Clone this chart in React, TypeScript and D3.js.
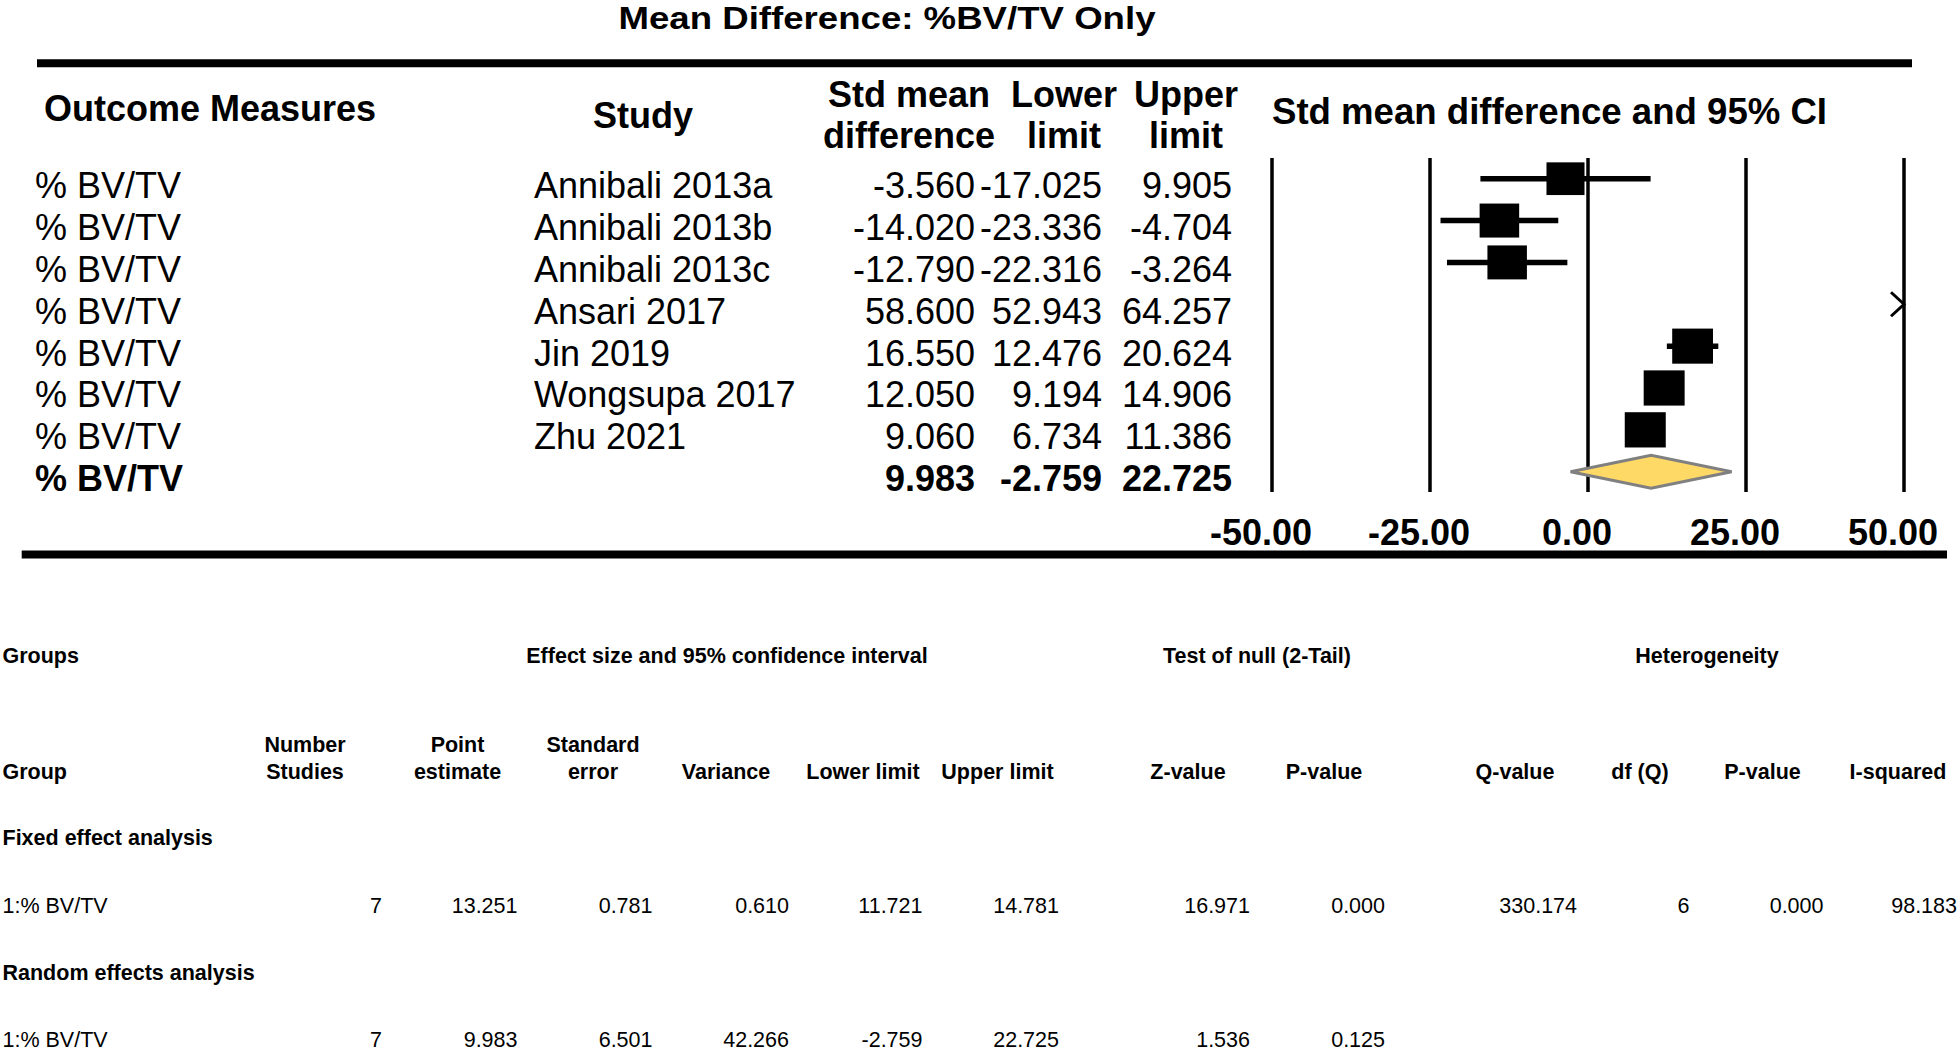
import React from "react";
import * as d3 from "d3";

// ---------- data ----------
const chartTitle = "Mean Difference: %BV/TV Only";
const outcomeLabel = "% BV/TV";
const studies = [
  "Annibali 2013a",
  "Annibali 2013b",
  "Annibali 2013c",
  "Ansari 2017",
  "Jin 2019",
  "Wongsupa 2017",
  "Zhu 2021",
];
const smd = [-3.56, -14.02, -12.79, 58.6, 16.55, 12.05, 9.06];
const lowerLimit = [-17.025, -23.336, -22.316, 52.943, 12.476, 9.194, 6.734];
const upperLimit = [9.905, -4.704, -3.264, 64.257, 20.624, 14.906, 11.386];
const summaryValues = [9.983, -2.759, 22.725]; // point, lower, upper
const axisTicks = [-50, -25, 0, 25, 50];
const axisDomain = [-50, 50];
const qValue = 330.174;

const tableGroupHeaders = [
  "Groups",
  "Effect size and 95% confidence interval",
  "Test of null (2-Tail)",
  "Heterogeneity",
];
const tableColumns = [
  ["Group"],
  ["Number", "Studies"],
  ["Point", "estimate"],
  ["Standard", "error"],
  ["Variance"],
  ["Lower limit"],
  ["Upper limit"],
  ["Z-value"],
  ["P-value"],
  ["Q-value"],
  ["df (Q)"],
  ["P-value"],
  ["I-squared"],
];
const sectionLabels = ["Fixed effect analysis", "Random effects analysis"];
const fixedRow = ["1:% BV/TV", "7", "13.251", "0.781", "0.610", "11.721", "14.781", "16.971", "0.000", "330.174", "6", "0.000", "98.183"];
const randomRow = ["1:% BV/TV", "7", "9.983", "6.501", "42.266", "-2.759", "22.725", "1.536", "0.125"];

// ---------- layout ----------
const W = 1960;
const H = 1051;
const FONT = "'Liberation Sans', Arial, Helvetica, sans-serif";

const hyph = (f: (n: number) => string) => (n: number) => f(n).replace("\u2212", "-");

export default function App() {
  const x = d3.scaleLinear().domain(axisDomain).range([1272, 1904]);
  const rowY = d3
    .scalePoint<number>()
    .domain(d3.range(studies.length + 1))
    .range([178.7, 471.7]);
  const fmt = hyph(d3.format(".3f"));
  const fmtTick = hyph(d3.format(".2f"));

  // random-effects weights (DerSimonian-Laird) -> box sizes
  const se = lowerLimit.map((l, i) => (upperLimit[i] - l) / (2 * 1.96));
  const wF = se.map((s) => 1 / (s * s));
  const sumW = d3.sum(wF);
  const sumW2 = d3.sum(wF, (w) => w * w);
  const tau2 = Math.max(0, (qValue - (studies.length - 1)) / (sumW - sumW2 / sumW));
  const wR = se.map((s) => 1 / (s * s + tau2));
  const wMax = d3.max(wR) as number;
  const boxW = d3.scaleSqrt().domain([0, wMax]).range([0, 41]);

  const [sp, sl, su] = summaryValues;
  const yS = rowY(studies.length) as number;
  const diamond = d3.line()([
    [x(sl), yS],
    [x(sp), yS - 16.5],
    [x(su), yS],
    [x(sp), yS + 16.5],
  ]) + "Z";

  const textBase = 19.5;
  const colCenters = [0, 305, 457.5, 593, 726, 863, 997.5, 1188, 1324, 1515, 1640, 1762.5, 1898];
  const colRights = [0, 382, 517.5, 652.5, 789, 922.5, 1059, 1250, 1385, 1577, 1689.5, 1823.5, 1957];
  const groupCenters = [0, 727, 1257, 1707];

  const tf = { fontFamily: FONT, fontSize: 21.5 };

  return (
    <svg
      width={W}
      height={H}
      style={{ position: "absolute", left: 0, top: 0, background: "#fff" }}
      fontFamily={FONT}
    >
      <rect width={W} height={H} fill="#fff" />
      {/* title */}
      <text
        x={887}
        y={29}
        textAnchor="middle"
        fontSize={32}
        fontWeight="bold"
        textLength={537}
        lengthAdjust="spacingAndGlyphs"
      >
        {chartTitle}
      </text>
      <line x1={37} x2={1912} y1={63.3} y2={63.3} stroke="#000" strokeWidth={8} />

      {/* column headers */}
      <g fontSize={36} fontWeight="bold">
        <text x={44} y={121}>Outcome Measures</text>
        <text x={643} y={128} textAnchor="middle">Study</text>
        <text x={909} y={107} textAnchor="middle">Std mean</text>
        <text x={909} y={148} textAnchor="middle">difference</text>
        <text x={1064} y={107} textAnchor="middle">Lower</text>
        <text x={1064} y={148} textAnchor="middle">limit</text>
        <text x={1186} y={107} textAnchor="middle">Upper</text>
        <text x={1186} y={148} textAnchor="middle">limit</text>
        <text x={1272} y={124} textLength={555} lengthAdjust="spacingAndGlyphs">
          Std mean difference and 95% CI
        </text>
      </g>

      {/* study rows */}
      <g fontSize={36}>
        {studies.map((s, i) => {
          const y = (rowY(i) as number) + textBase;
          return (
            <g key={s}>
              <text x={35} y={y}>{outcomeLabel}</text>
              <text x={534} y={y}>{s}</text>
              <text x={975} y={y} textAnchor="end">{fmt(smd[i])}</text>
              <text x={1102} y={y} textAnchor="end">{fmt(lowerLimit[i])}</text>
              <text x={1232} y={y} textAnchor="end">{fmt(upperLimit[i])}</text>
            </g>
          );
        })}
        <g fontWeight="bold">
          <text x={35} y={yS + textBase}>{outcomeLabel}</text>
          <text x={975} y={yS + textBase} textAnchor="end">{fmt(sp)}</text>
          <text x={1102} y={yS + textBase} textAnchor="end">{fmt(sl)}</text>
          <text x={1232} y={yS + textBase} textAnchor="end">{fmt(su)}</text>
        </g>
      </g>

      {/* grid lines */}
      {axisTicks.map((t) => (
        <line key={t} x1={x(t)} x2={x(t)} y1={158} y2={492} stroke="#000" strokeWidth={3.5} />
      ))}

      {/* CI lines and boxes */}
      {studies.map((s, i) => {
        const y = rowY(i) as number;
        const [d0, d1] = axisDomain;
        if (lowerLimit[i] > d1) {
          const tip = x(d1);
          return (
            <path
              key={s}
              d={`M${tip - 13},${y - 12}L${tip},${y}L${tip - 13},${y + 12}`}
              fill="none"
              stroke="#000"
              strokeWidth={3}
            />
          );
        }
        const bw = boxW(wR[i]);
        const bh = bw * 0.86;
        return (
          <g key={s}>
            <line
              x1={x(Math.max(d0, lowerLimit[i]))}
              x2={x(Math.min(d1, upperLimit[i]))}
              y1={y}
              y2={y}
              stroke="#000"
              strokeWidth={5.5}
            />
            <rect x={x(smd[i]) - bw / 2} y={y - bh / 2} width={bw} height={bh} fill="#000" />
          </g>
        );
      })}

      {/* summary diamond */}
      <path d={diamond} fill="#FFD966" stroke="#808080" strokeWidth={3} strokeLinejoin="miter" />

      {/* axis labels */}
      <g fontSize={36} fontWeight="bold">
        {axisTicks.map((t) => (
          <text key={t} x={x(t) - 11} y={545} textAnchor="middle">
            {fmtTick(t)}
          </text>
        ))}
      </g>
      <line x1={21.7} x2={1947} y1={554.5} y2={554.5} stroke="#000" strokeWidth={8} />

      {/* bottom table */}
      <g style={tf}>
        <g fontWeight="bold">
          <text x={2.5} y={663}>{tableGroupHeaders[0]}</text>
          {tableGroupHeaders.slice(1).map((h, i) => (
            <text key={h} x={groupCenters[i + 1]} y={663} textAnchor="middle">{h}</text>
          ))}
          {tableColumns.map((lines, i) =>
            lines.map((ln, j) => {
              const y = 779 - (lines.length - 1 - j) * 27.3;
              return i === 0 ? (
                <text key={`${i}-${j}`} x={2.5} y={y}>{ln}</text>
              ) : (
                <text key={`${i}-${j}`} x={colCenters[i]} y={y} textAnchor="middle">{ln}</text>
              );
            })
          )}
          <text x={2.5} y={845}>{sectionLabels[0]}</text>
          <text x={2.5} y={980}>{sectionLabels[1]}</text>
        </g>
        {[fixedRow, randomRow].map((row, r) => {
          const y = r === 0 ? 912.5 : 1046.5;
          return (
            <g key={r}>
              {row.map((v, i) =>
                i === 0 ? (
                  <text key={i} x={2.5} y={y}>{v}</text>
                ) : (
                  <text key={i} x={colRights[i]} y={y} textAnchor="end">{v}</text>
                )
              )}
            </g>
          );
        })}
      </g>
    </svg>
  );
}
